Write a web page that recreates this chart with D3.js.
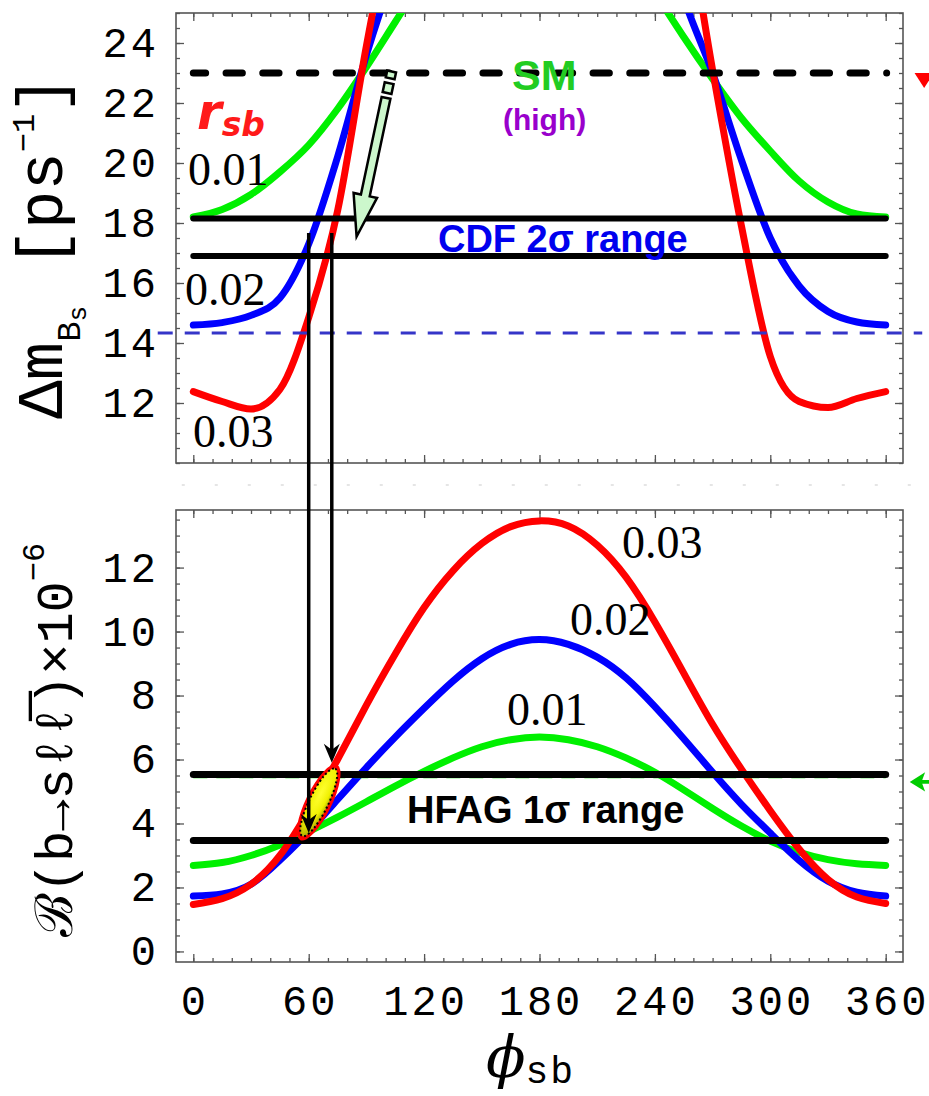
<!DOCTYPE html>
<html>
<head>
<meta charset="utf-8">
<script src="https://cdn.jsdelivr.net/npm/d3@7"></script>
<style>
  body { margin: 0; background: #fff; }
</style>
</head>
<body>
<svg id="chart" width="929" height="1096"></svg>
<script>
// phi_sb grid in degrees
const phi = [0, 15, 30, 45, 60, 75, 90, 105, 120, 135, 150, 165, 180,
             195, 210, 225, 240, 255, 270, 285, 300, 315, 330, 345, 360];

// Delta m_Bs [ps^-1] for r_sb = 0.01 (green), 0.02 (blue), 0.03 (red)
const dmGreen = [18.2, 18.45, 18.95, 19.7, 20.6, 21.8, 23.2, 24.7, 26.2, 27.5, 28.5, 29.0, 29.2,
                 29.0, 28.5, 27.4, 25.7, 24.2, 22.8, 21.5, 20.4, 19.4, 18.7, 18.3, 18.2];
const dmBlue  = [14.6, 14.68, 14.92, 15.5, 17.3, 20.2, 23.6, 26.5, 29.0, 31.0, 32.3, 33.0, 33.2,
                 33.0, 32.3, 31.0, 28.8, 25.5, 23.0, 20.1, 17.5, 15.9, 15.05, 14.7, 14.6];
const dmRed   = [12.38, 12.05, 11.8, 12.45, 14.85, 18.4, 23.9, 28.8, 33.0, 36.0, 38.0, 39.0, 39.3,
                 39.0, 38.0, 36.0, 33.0, 28.8, 23.1, 17.9, 13.55, 12.05, 11.85, 12.15, 12.38];

// B(b -> s l lbar) x 10^-6 for the same r_sb values
const brGreen = [2.69, 2.78, 3.0, 3.33, 3.75, 4.2, 4.68, 5.17, 5.63, 6.05, 6.4, 6.62, 6.7,
                 6.62, 6.4, 6.05, 5.6, 5.05, 4.47, 3.92, 3.45, 3.1, 2.87, 2.74, 2.69];
const brBlue  = [1.73, 1.8, 2.1, 2.85, 3.75, 4.75, 5.75, 6.7, 7.6, 8.45, 9.15, 9.6, 9.75,
                 9.6, 9.2, 8.55, 7.65, 6.65, 5.6, 4.6, 3.7, 2.85, 2.2, 1.85, 1.73];
const brRed   = [1.47, 1.65, 2.1, 3.0, 4.4, 6.0, 7.7, 9.3, 10.75, 11.9, 12.75, 13.28, 13.46,
                 13.3, 12.7, 11.7, 10.3, 8.7, 7.1, 5.7, 4.4, 3.2, 2.25, 1.7, 1.5];

// tick labels
const phiTicks = [0, 60, 120, 180, 240, 300, 360];
const dmTicks = [12, 14, 16, 18, 20, 22, 24];
const brTicks = [0, 2, 4, 6, 8, 10, 12];

// reference lines
const smDm = 23;              // SM (high)
const cdfRange = [18.15, 16.9];
const lowDm = 14.33;          // thin blue dashed
const lowSpan = [-18.5, 379];
const hfagRange = [5.53, 3.47];
const smBr = 5.45;            // green dashed under HFAG upper edge

// projection of the CDF band onto the BR panel
const dropPhi = [60, 72];
const dropFrom = 17.67;
const dropTo = [3.7, 5.9];
const blob = { phi: 65.2, br: 4.66 };

const svg = d3.select("#chart");
const x = d3.scaleLinear().domain([-9, 369]).range([176, 903]);
const yTop = d3.scaleLinear().domain([10, 25]).range([463, 13]);
const yBot = d3.scaleLinear().domain([-0.33, 13.8]).range([962, 510]);

const monoFont = "'Liberation Mono', 'DejaVu Sans Mono', monospace";

function frame(y, yMajor, labelX) {
  const g = svg.append("g");
  const [yb, yt] = y.range();
  const d = y.domain();
  const xMinor = d3.range(0, 361, 10);
  const yMinor = d3.range(Math.ceil(d[0] * 2) / 2, d[1] + 0.01, 0.5);

  const put = (axis, tr, vals, size, fmt) => {
    const a = g.append("g").attr("transform", tr)
      .call(axis.tickValues(vals).tickSize(size).tickSizeOuter(0).tickPadding(17).tickFormat(fmt || (() => "")));
    a.select(".domain").remove();
    a.selectAll("line").attr("stroke", "#555").attr("stroke-width", 1.3);
    a.selectAll("text").attr("fill", "#000")
      .style("font-family", monoFont).style("font-size", "42px").style("letter-spacing", "3px");
    return a;
  };
  put(d3.axisBottom(x), `translate(0,${yb})`, xMinor, -4);
  put(d3.axisTop(x), `translate(0,${yt})`, xMinor, -4);
  put(d3.axisBottom(x), `translate(0,${yb})`, phiTicks, -8, labelX ? d3.format("d") : null)
    .selectAll("text").attr("y", 23).attr("dx", 1);
  put(d3.axisTop(x), `translate(0,${yt})`, phiTicks, -8);

  put(d3.axisLeft(y), `translate(${x(-9)},0)`, yMinor, -4);
  put(d3.axisRight(y), `translate(${x(369)},0)`, yMinor, -4);
  put(d3.axisLeft(y), `translate(${x(-9)},0)`, yMajor, -8, d3.format("d"));
  put(d3.axisRight(y), `translate(${x(369)},0)`, yMajor, -8);

  g.append("rect")
    .attr("x", x(-9)).attr("y", yt)
    .attr("width", x(369) - x(-9)).attr("height", yb - yt)
    .attr("fill", "none").attr("stroke", "#555").attr("stroke-width", 1.6);
}

const defs = svg.append("defs");
defs.append("clipPath").attr("id", "clipTop").append("rect")
  .attr("x", x(-9)).attr("y", yTop(25)).attr("width", x(369) - x(-9)).attr("height", yTop(10) - yTop(25));
defs.append("clipPath").attr("id", "clipBot").append("rect")
  .attr("x", x(-9)).attr("y", yBot(13.8)).attr("width", x(369) - x(-9)).attr("height", yBot(-0.33) - yBot(13.8));
const grad = defs.append("radialGradient").attr("id", "yel").attr("cx", "62%").attr("cy", "40%").attr("r", "70%");
grad.append("stop").attr("offset", "0%").attr("stop-color", "#ffff30");
grad.append("stop").attr("offset", "60%").attr("stop-color", "#f0f000");
grad.append("stop").attr("offset", "100%").attr("stop-color", "#a0a000");

frame(yTop, dmTicks, false);
frame(yBot, brTicks, true);

// faint separator between the panels
svg.append("line").attr("x1", x(-6)).attr("x2", x(378)).attr("y1", 485).attr("y2", 485)
  .attr("stroke", "#ddd").attr("stroke-width", 1.5).attr("stroke-dasharray", "3 30");

function curves(y, series, clip, curve) {
  const line = d3.line().x((d, i) => x(phi[i])).y(d => y(d)).curve(curve);
  svg.append("g").attr("clip-path", `url(#${clip})`)
    .selectAll("path").data(series).join("path")
    .attr("d", s => line(s.v))
    .attr("fill", "none").attr("stroke", s => s.c).attr("stroke-width", 7)
    .attr("stroke-linecap", "round").attr("stroke-linejoin", "round");
}

function hline(y, v, w, color, dash, span) {
  const sp = span || [0, 360];
  svg.append("line").attr("x1", x(sp[0])).attr("x2", x(sp[1])).attr("y1", y(v)).attr("y2", y(v))
    .attr("stroke", color).attr("stroke-width", w)
    .attr("stroke-linecap", dash ? "butt" : "round")
    .attr("stroke-dasharray", dash || null);
}

// ---------- top panel ----------
curves(yTop, [{ v: dmGreen, c: "#00f000" }, { v: dmBlue, c: "#0000ff" }, { v: dmRed, c: "#ff0000" }],
  "clipTop", d3.curveMonotoneX);

hline(yTop, lowDm, 3, "#3535c8", "15 12", lowSpan);
cdfRange.forEach(v => hline(yTop, v, 6, "#000"));
// SM dashed line, drawn right to left so it ends in a dot
svg.append("line").attr("x1", x(360.5)).attr("x2", x(0)).attr("y1", yTop(smDm)).attr("y2", yTop(smDm))
  .attr("stroke", "#000").attr("stroke-width", 7).attr("stroke-linecap", "round")
  .attr("stroke-dasharray", "0 20.4 16.3 0");

// red marker beyond the right frame
svg.append("path")
  .attr("d", `M${x(375)},${yTop(23)}L${x(385)},${yTop(23)}L${x(380)},${yTop(22.5)}Z`)
  .attr("fill", "#ff0000");

// hollow light-green arrow from SM line down to CDF band
(function () {
  const x0 = x(100.2), y0 = yTop(22.17), x1 = x(84.9), y1 = yTop(17.55);
  const L = Math.hypot(x1 - x0, y1 - y0), ang = Math.atan2(y1 - y0, x1 - x0) * 180 / Math.PI;
  const w = 4.5, H = 12, h = 42;
  const g = svg.append("g").attr("transform", `translate(${x0},${y0}) rotate(${ang})`);
  g.append("path")
    .attr("d", `M0,${-w}L${L - h},${-w}L${L - h},${-H}L${L},0L${L - h},${H}L${L - h},${w}L0,${w}Z`)
    .attr("fill", "#ccf7cc").attr("stroke", "#000").attr("stroke-width", 2.5).attr("stroke-linejoin", "miter");
  [[-15, -5], [-27, -20]].forEach(([a, b]) => {
    g.append("rect").attr("x", a).attr("y", -w).attr("width", b - a).attr("height", 2 * w)
      .attr("fill", "#ccf7cc").attr("stroke", "#000").attr("stroke-width", 2.5);
  });
})();

// ---------- bottom panel ----------
curves(yBot, [{ v: brGreen, c: "#00f000" }, { v: brBlue, c: "#0000ff" }, { v: brRed, c: "#ff0000" }],
  "clipBot", d3.curveNatural);
hline(yBot, smBr, 2.5, "#00e000", "14 9");
hfagRange.forEach(v => hline(yBot, v, 7, "#000"));

// green marker beyond the right frame
svg.append("path")
  .attr("d", `M${x(372.5)},${yBot(5.3)}L${x(380.5)},${yBot(5.6)}L${x(379)},${yBot(5.36)}L${x(385)},${yBot(5.36)}` +
             `L${x(385)},${yBot(5.24)}L${x(379)},${yBot(5.24)}L${x(380.5)},${yBot(5.0)}Z`)
  .attr("fill", "#00cc00");

// highlighted overlap region
(function () {
  const g = svg.append("g").attr("transform", `translate(${x(blob.phi)},${yBot(blob.br)}) rotate(-64)`);
  g.append("ellipse").attr("rx", 42).attr("ry", 13).attr("fill", "#ff0000");
  g.append("ellipse").attr("rx", 37.5).attr("ry", 9.5).attr("fill", "url(#yel)")
    .attr("stroke", "#000").attr("stroke-width", 2).attr("stroke-dasharray", "2 2.5");
})();

// vertical projection lines with arrow heads
dropPhi.forEach((p, i) => {
  const xp = x(p), ya = yTop(dropFrom), yb = yBot(dropTo[i]);
  svg.append("line").attr("x1", xp).attr("x2", xp).attr("y1", ya).attr("y2", yb - 12)
    .attr("stroke", "#000").attr("stroke-width", 3.5);
  svg.append("path").attr("d", `M${xp - 8},${yb - 19}L${xp},${yb - 13}L${xp + 8},${yb - 19}L${xp},${yb}Z`)
    .attr("fill", "#000");
});

// ---------- text ----------
function label(px, py, txt, size, family, color, weight, style) {
  return svg.append("text").attr("x", px).attr("y", py)
    .style("font-family", family).style("font-size", size + "px")
    .style("font-weight", weight || "normal").style("font-style", style || "normal")
    .attr("fill", color).text(txt);
}
const serif = "'Liberation Serif', 'DejaVu Serif', serif";
const sans = "'Liberation Sans', Arial, sans-serif";

label(x(-2.8), yTop(19.27), "0.01", 46, serif, "#000");
label(x(-4.3), yTop(15.27), "0.02", 46, serif, "#000");
label(x(-0.16), yTop(10.53), "0.03", 46, serif, "#000");
label(x(222.9), yBot(12.3), "0.03", 46, serif, "#000");
label(x(195.9), yBot(9.89), "0.02", 46, serif, "#000");
label(x(163.1), yBot(7.08), "0.01", 46, serif, "#000");

const rsb = label(x(1.9), yTop(21.12), "r", 50, "'DejaVu Sans', sans-serif", "#ff1a1a", "bold", "italic");
rsb.append("tspan").attr("dy", 7).style("font-size", "33px").text("sb");

label(x(165.7), yTop(22.43), "SM", 43, sans, "#22cc22", "bold");
label(x(161), yTop(21.1), "(high)", 30, sans, "#9900cc", "bold");
label(x(127.2), yTop(17.03), "CDF 2σ range", 38, sans, "#0000ee", "bold");
label(x(111.1), yBot(4.02), "HFAG 1σ range", 38, sans, "#000", "bold");

// axis titles
const t1 = svg.append("text").attr("transform", "translate(62,247) rotate(-90)")
  .attr("text-anchor", "middle").style("font-family", monoFont).style("font-size", "64px");
t1.append("tspan").text("Δm");
t1.append("tspan").attr("dy", 18).style("font-size", "34px").text("B");
t1.append("tspan").attr("dy", 6).style("font-size", "26px").text("s");
t1.append("tspan").attr("dy", -24).text(" [ps");
t1.append("tspan").attr("dy", -28).style("font-size", "32px").text("−1");
t1.append("tspan").attr("dy", 28).text("]");

const t2 = svg.append("text").attr("transform", "translate(72,740) rotate(-90)")
  .attr("text-anchor", "middle").style("font-family", monoFont).style("font-size", "52px");
t2.append("tspan").text("ℬ(b→sℓ");
t2.append("tspan").text("ℓ\u0305");
t2.append("tspan").text(")×10");
t2.append("tspan").attr("dy", -28).style("font-size", "32px").text("−6");

const t3 = svg.append("text").attr("x", 486).attr("y", 1077)
  .style("font-family", monoFont).style("font-size", "58px");
t3.append("tspan").style("font-family", "'DejaVu Serif', serif").style("font-style", "italic").text("ϕ");
t3.append("tspan").attr("dy", 6).style("font-size", "38px").style("letter-spacing", "2px").text("sb");
</script>
</body>
</html>
